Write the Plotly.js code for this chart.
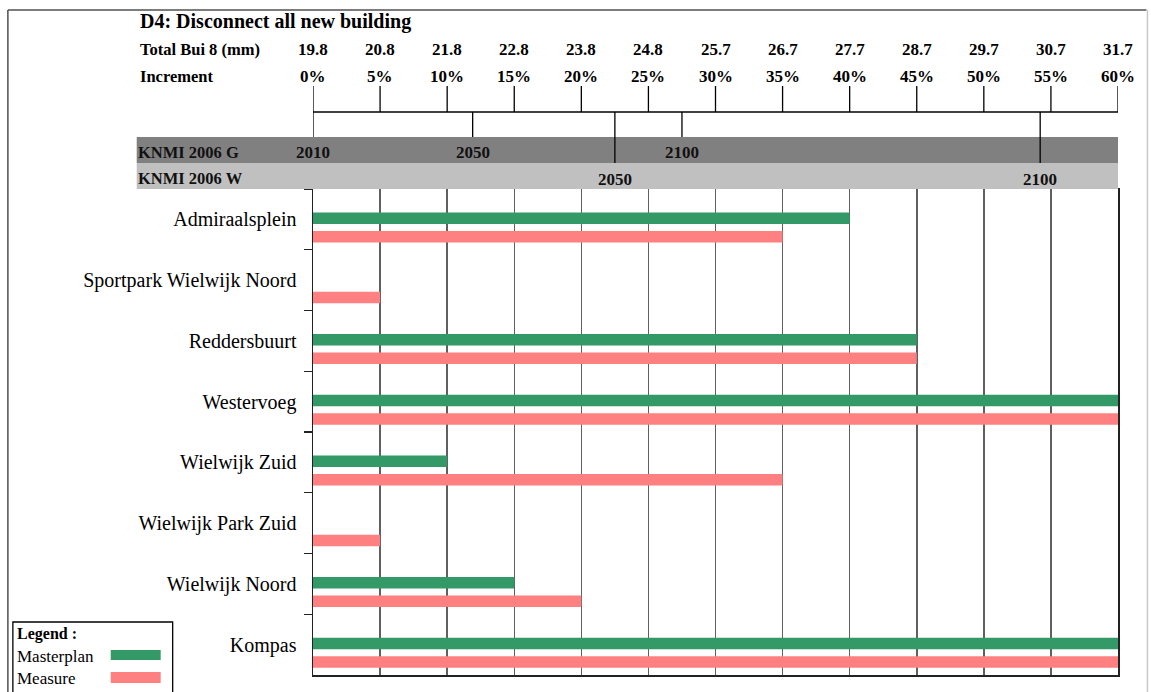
<!DOCTYPE html>
<html>
<head>
<meta charset="utf-8">
<script src="https://cdn.plot.ly/plotly-3.0.1.min.js"></script>
<style>html,body{margin:0;padding:0;background:#fff;}#chart{width:1151px;height:692px;}</style>
</head>
<body>
<div id="chart"></div>
<script>
// ---- data ----
const categories = ["Admiraalsplein","Sportpark Wielwijk Noord","Reddersbuurt","Westervoeg","Wielwijk Zuid","Wielwijk Park Zuid","Wielwijk Noord","Kompas"];
const masterplan = [40, 0, 45, 60, 10, 0, 15, 60];
const measure    = [35, 5, 45, 60, 35, 5, 20, 60];
const incrementTicks = [0,5,10,15,20,25,30,35,40,45,50,55,60];
const mmLabels  = ["19.8","20.8","21.8","22.8","23.8","24.8","25.7","26.7","27.7","28.7","29.7","30.7","31.7"];
const pctLabels = ["0%","5%","10%","15%","20%","25%","30%","35%","40%","45%","50%","55%","60%"];
const knmiGYears = ["2010","2050","2100"];
const knmiGPos   = [0, 11.9, 27.5];
const knmiWYears = ["2050","2100"];
const knmiWPos   = [22.5, 54.2];

// ---- layout helpers (pixel -> paper) ----
const W = 1151, H = 692;
const ML = 312.5, MR = 1118.5, MT = 189, MB = 675;
const PX = px => (px - ML) / (MR - ML);
const PY = py => (MB - py) / (MB - MT);
const SERIF = "Liberation Serif, Times New Roman, serif";

const GREEN = "#339966", RED = "#FF8080";

const traces = [
  {type:"bar", orientation:"h", name:"Masterplan", y:categories, x:masterplan,
   marker:{color:GREEN}, offset:-0.115, width:0.19, hoverinfo:"x+y"},
  {type:"bar", orientation:"h", name:"Measure", y:categories, x:measure,
   marker:{color:RED}, offset:0.19, width:0.19, hoverinfo:"x+y"}
];

const shapes = [];
const annotations = [];

// outer frame
shapes.push({type:"line", xref:"paper", yref:"paper", x0:PX(7), x1:PX(7), y0:PY(10), y1:PY(700), line:{color:"#505050", width:1.5}});
shapes.push({type:"line", xref:"paper", yref:"paper", x0:PX(7), x1:PX(1147), y0:PY(10), y1:PY(10), line:{color:"#505050", width:1.5}});
shapes.push({type:"line", xref:"paper", yref:"paper", x0:PX(1148), x1:PX(1148), y0:PY(10), y1:PY(700), line:{color:"#c8c8c8", width:1.5}});

// KNMI bands
shapes.push({type:"rect", xref:"paper", yref:"paper", x0:PX(136), x1:1, y0:PY(163), y1:PY(137), fillcolor:"#808080", line:{width:0}});
shapes.push({type:"rect", xref:"paper", yref:"paper", x0:PX(136), x1:1, y0:PY(189), y1:PY(163), fillcolor:"#c0c0c0", line:{width:0}});

// header scale ticks
incrementTicks.forEach((v,i) => {
  shapes.push({type:"line", xref:"x", yref:"paper", x0:v, x1:v, y0:PY(86), y1:PY(112), line:{color:"#000", width:1.3}});
  annotations.push({xref:"x", yref:"paper", x:v, y:PY(50), text:mmLabels[i], showarrow:false,
    xanchor:"center", yanchor:"middle", font:{family:SERIF, size:17, color:"#000", weight:"bold"}});
  annotations.push({xref:"x", yref:"paper", x:v, y:PY(76), text:pctLabels[i], showarrow:false,
    xanchor:"center", yanchor:"middle", font:{family:SERIF, size:17, color:"#000", weight:"bold"}});
});
shapes.push({type:"line", xref:"x", yref:"paper", x0:0, x1:60, y0:PY(112), y1:PY(112), line:{color:"#000", width:1.3}});

// KNMI year drops & labels
knmiGPos.forEach((v,i) => {
  shapes.push({type:"line", xref:"x", yref:"paper", x0:v, x1:v, y0:PY(112), y1:PY(137), line:{color:"#000", width:1.3}});
  annotations.push({xref:"x", yref:"paper", x:v, y:PY(153), text:knmiGYears[i], showarrow:false,
    xanchor:"center", yanchor:"middle", font:{family:SERIF, size:17, color:"#111", weight:"bold"}});
});
knmiWPos.forEach((v,i) => {
  shapes.push({type:"line", xref:"x", yref:"paper", x0:v, x1:v, y0:PY(112), y1:PY(163), line:{color:"#000", width:1.3}});
  annotations.push({xref:"x", yref:"paper", x:v, y:PY(179), text:knmiWYears[i], showarrow:false,
    xanchor:"center", yanchor:"middle", font:{family:SERIF, size:17, color:"#111", weight:"bold"}});
});

// header texts
annotations.push({xref:"paper", yref:"paper", x:PX(137), y:PY(22), text:"D4: Disconnect all new building", showarrow:false,
  xanchor:"left", yanchor:"middle", font:{family:SERIF, size:20, color:"#000", weight:"bold"}});
annotations.push({xref:"paper", yref:"paper", x:PX(137), y:PY(50), text:"Total Bui 8 (mm)", showarrow:false,
  xanchor:"left", yanchor:"middle", font:{family:SERIF, size:16.5, color:"#000", weight:"bold"}});
annotations.push({xref:"paper", yref:"paper", x:PX(137), y:PY(76), text:"Increment", showarrow:false,
  xanchor:"left", yanchor:"middle", font:{family:SERIF, size:16.5, color:"#000", weight:"bold"}});
annotations.push({xref:"paper", yref:"paper", x:PX(135), y:PY(153), text:"KNMI 2006 G", showarrow:false,
  xanchor:"left", yanchor:"middle", font:{family:SERIF, size:16.5, color:"#111", weight:"bold"}});
annotations.push({xref:"paper", yref:"paper", x:PX(135), y:PY(178), text:"KNMI 2006 W", showarrow:false,
  xanchor:"left", yanchor:"middle", font:{family:SERIF, size:16.5, color:"#111", weight:"bold"}});

// custom legend
shapes.push({type:"rect", xref:"paper", yref:"paper", x0:PX(12), x1:PX(172), y0:PY(705), y1:PY(622), line:{color:"#000", width:1.3}, fillcolor:"rgba(0,0,0,0)"});
shapes.push({type:"rect", xref:"paper", yref:"paper", x0:PX(110), x1:PX(160), y0:PY(660), y1:PY(650), fillcolor:GREEN, line:{width:0}});
shapes.push({type:"rect", xref:"paper", yref:"paper", x0:PX(110), x1:PX(160), y0:PY(683), y1:PY(672), fillcolor:RED, line:{width:0}});
annotations.push({xref:"paper", yref:"paper", x:PX(14), y:PY(634), text:"Legend :", showarrow:false,
  xanchor:"left", yanchor:"middle", font:{family:SERIF, size:16, color:"#000", weight:"bold"}});
annotations.push({xref:"paper", yref:"paper", x:PX(14), y:PY(656), text:traces[0].name, showarrow:false,
  xanchor:"left", yanchor:"middle", font:{family:SERIF, size:17, color:"#000"}});
annotations.push({xref:"paper", yref:"paper", x:PX(14), y:PY(678), text:traces[1].name, showarrow:false,
  xanchor:"left", yanchor:"middle", font:{family:SERIF, size:17, color:"#000"}});

const layout = {
  width: W, height: H,
  margin: {l: ML, r: W - MR, t: MT, b: H - MB, pad: 0},
  paper_bgcolor: "#fff", plot_bgcolor: "#fff",
  showlegend: false,
  barmode: "overlay",
  xaxis: {range:[0,60], tickvals:incrementTicks, showticklabels:false, ticks:"",
          showgrid:true, gridcolor:"#606060", gridwidth:1.5, zeroline:false,
          showline:true, linecolor:"#222", linewidth:1.5, mirror:true, fixedrange:true},
  yaxis: {type:"category", autorange:"reversed", tickson:"boundaries", ticks:"outside",
          ticklen:8, tickcolor:"#222", tickwidth:1.3, ticklabelstandoff:11,
          showgrid:false, zeroline:false, showline:true, linecolor:"#222", linewidth:1.5, mirror:true,
          tickfont:{family:SERIF, size:20, color:"#000"}, fixedrange:true},
  shapes: shapes,
  annotations: annotations
};

Plotly.newPlot("chart", traces, layout, {displayModeBar:false, staticPlot:true});
</script>
</body>
</html>
